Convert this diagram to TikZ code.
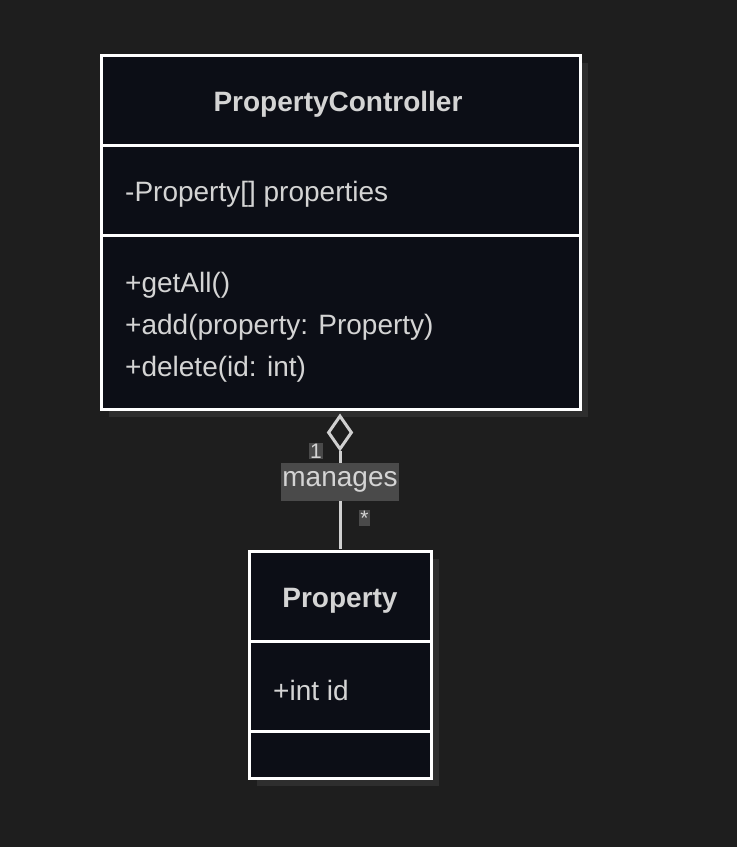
\documentclass[tikz,border=0pt]{standalone}
\usepackage{fontspec}
\setmainfont{Liberation Sans}
\usetikzlibrary{shapes.geometric}
\definecolor{bg}{HTML}{1E1E1E}
\definecolor{boxfill}{HTML}{0C0E16}
\definecolor{shadowc}{HTML}{2E2E2E}
\definecolor{txt}{HTML}{D4D4D4}
\definecolor{lbl}{HTML}{4A4A4A}
\definecolor{linec}{HTML}{D0D0D0}
\tikzset{
  classbox/.style={draw=white, line width=3pt, fill=boxfill},
  shadowbox/.style={fill=shadowc, draw=none},
  divider/.style={draw=white, line width=3pt},
  title/.style={text=txt, font=\fontsize{28}{32}\selectfont\bfseries, inner sep=0pt},
  member/.style={text=txt, font=\fontsize{28}{32}\selectfont, inner sep=0pt, anchor=west},
  edgelbl/.style={fill=lbl, text=txt, inner sep=1pt, font=\fontsize{28}{30}\selectfont},
  multlbl/.style={fill=lbl, text=txt, inner sep=1pt, font=\fontsize{21}{22}\selectfont},
  connector/.style={draw=linec, line width=3pt},
}
\begin{document}
\begin{tikzpicture}[x=1pt,y=-1pt]
\fill[bg] (0,0) rectangle (737,847);
\useasboundingbox (0,0) rectangle (737,847);
% PropertyController
\fill[shadowbox] (109,63) rectangle (588,417);
\draw[classbox] (101,55) rectangle (580,409);
\draw[divider] (101,145) -- (580,145);
\draw[divider] (101,235) -- (580,235);
\node[title] (pctitle) at (338,104) {PropertyController};
\node[member] (pcattr) at (125,194) {-Property[] properties};
\node[member] (pcm1) at (125,285) {+getAll()};
\node[member] (pcm2) at (125,327) {+add(property: Property)};
\node[member] (pcm3) at (125,369) {+delete(id: int)};
\coordinate (pcbottom) at (340,409);
% Property
\fill[shadowbox] (257,559) rectangle (439,786);
\draw[classbox] (249,551) rectangle (431,778);
\draw[divider] (249,641) -- (431,641);
\draw[divider] (249,731) -- (431,731);
\node[title] (ptitle) at (340,601) {Property};
\node[member] (pattr) at (273,690) {+int id};
\coordinate (ptop) at (340,549);
% aggregation
\node[diamond, draw=linec, line width=3pt, fill=bg, minimum width=24pt, minimum height=34pt, inner sep=0pt, anchor=north] (dia) at (340,414) {};
\draw[connector] (dia.south) -- (ptop);
\node[edgelbl, minimum width=114pt, minimum height=38pt] (mg) at (340,482) {manages};
\node[multlbl] (one) at (316,451) {1};
\node[multlbl] (star) at (364.5,518) {*};
\end{tikzpicture}
\end{document}
